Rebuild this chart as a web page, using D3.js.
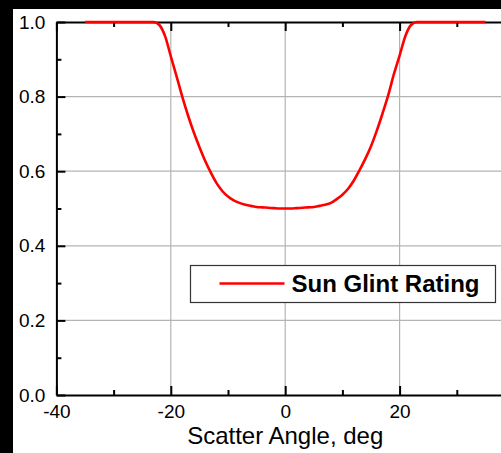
<!DOCTYPE html>
<html>
<head>
<meta charset="utf-8">
<script src="https://cdn.jsdelivr.net/npm/d3@7"></script>
<style>
  body { margin: 0; background: #000; }
  svg { display: block; font-family: 'Liberation Sans', Arial, sans-serif; }
</style>
</head>
<body>
<script>
const w = 501;
const h = 453;
const padding = { top: 22, left: 56.4, right: -13, bottom: 58 };

// scatter angle (deg) and rating
const angles = [-35, -34, -33, -32, -31, -30, -29, -28, -27, -26, -25, -24, -23, -22, -21, -20, -19, -18, -17, -16, -15, -14, -13, -12, -11, -10, -9, -8, -7, -6, -5, -4, -3, -2, -1, 0,
  1, 2, 3, 4, 5, 6, 7, 8, 9, 10, 11, 12, 13, 14, 15, 16, 17, 18, 19, 20, 21, 22, 23, 24, 25, 26, 27, 28, 29, 30, 31, 32, 33, 34, 35];
const rating = [1, 1, 1, 1, 1, 1, 1, 1, 1, 1, 1, 1, 1, 0.992, 0.962, 0.908, 0.855, 0.8, 0.75, 0.705, 0.665, 0.628, 0.596, 0.568, 0.547, 0.532, 0.522, 0.515, 0.51, 0.507, 0.504, 0.503, 0.502, 0.501, 0.5, 0.5,
  0.5, 0.501, 0.502, 0.503, 0.504, 0.507, 0.51, 0.515, 0.525, 0.537, 0.553, 0.575, 0.603, 0.633, 0.667, 0.708, 0.754, 0.803, 0.86, 0.91, 0.962, 0.992, 1, 1, 1, 1, 1, 1, 1, 1, 1, 1, 1, 1, 1, 1, 1];

const xMajor = [-40, -20, 0, 20];
const xMinor = [-30, -10, 10, 30];
const yMajor = [0, 0.2, 0.4, 0.6, 0.8, 1.0];
const yMinor = [0.1, 0.3, 0.5, 0.7, 0.9];
const xGrid = [-20, 0, 20];
const yGrid = [0.2, 0.4, 0.6, 0.8];
const seriesName = 'Sun Glint Rating';
const xTitle = 'Scatter Angle, deg';

const svg = d3.select('body')
  .append('svg')
  .attr('width', w)
  .attr('height', h);

// black border band top/left, white page behind the chart
svg.append('rect')
  .attr('x', 13)
  .attr('y', 9)
  .attr('width', w - 13)
  .attr('height', h - 9)
  .attr('fill', '#fff');

const xScale = d3.scaleLinear().domain([-40, 40]).range([padding.left, w - padding.right]);
const yScale = d3.scaleLinear().domain([0, 1]).range([h - padding.bottom, padding.top]);

// grid
svg.append('g')
  .selectAll('line')
  .data(xGrid)
  .enter()
  .append('line')
  .attr('x1', (d) => xScale(d))
  .attr('x2', (d) => xScale(d))
  .attr('y1', yScale(0))
  .attr('y2', yScale(1))
  .attr('stroke', '#b4b4b4')
  .attr('stroke-width', 1.2);

svg.append('g')
  .selectAll('line')
  .data(yGrid)
  .enter()
  .append('line')
  .attr('x1', xScale(-40))
  .attr('x2', w)
  .attr('y1', (d) => yScale(d))
  .attr('y2', (d) => yScale(d))
  .attr('stroke', '#b4b4b4')
  .attr('stroke-width', 1.2);

// axes, ticks pointing inward
const styleAxis = (g) => {
  g.select('.domain').attr('stroke', '#000').attr('stroke-width', 2);
  g.selectAll('.tick line').attr('stroke', '#000').attr('stroke-width', 2);
  g.selectAll('.tick text').attr('fill', '#000').style('font-size', '19px');
};

const xAxis = d3.axisBottom(xScale).tickValues(xMajor).tickSizeInner(-9).tickSizeOuter(0).tickPadding(10)
  .tickFormat((d) => String(d));
svg.append('g')
  .attr('id', 'x-axis')
  .attr('transform', `translate(0, ${yScale(0)})`)
  .call(xAxis)
  .call(styleAxis);

svg.append('g')
  .attr('transform', `translate(0, ${yScale(0)})`)
  .call(d3.axisBottom(xScale).tickValues(xMinor).tickSize(-5).tickFormat(''))
  .call(styleAxis)
  .call((g) => g.select('.domain').remove());

const xTop = d3.axisTop(xScale).tickValues(xMajor).tickSizeInner(-9).tickSizeOuter(0).tickFormat('');
svg.append('g')
  .attr('transform', `translate(0, ${yScale(1)})`)
  .call(xTop)
  .call(styleAxis);

svg.append('g')
  .attr('transform', `translate(0, ${yScale(1)})`)
  .call(d3.axisTop(xScale).tickValues(xMinor).tickSize(-5).tickFormat(''))
  .call(styleAxis)
  .call((g) => g.select('.domain').remove());

const yAxis = d3.axisLeft(yScale).tickValues(yMajor).tickSizeInner(-9).tickSizeOuter(0).tickPadding(11)
  .tickFormat(d3.format('.1f'));
svg.append('g')
  .attr('id', 'y-axis')
  .attr('transform', `translate(${xScale(-40)}, 0)`)
  .call(yAxis)
  .call(styleAxis);

svg.append('g')
  .attr('transform', `translate(${xScale(-40)}, 0)`)
  .call(d3.axisLeft(yScale).tickValues(yMinor).tickSize(-5).tickFormat(''))
  .call(styleAxis)
  .call((g) => g.select('.domain').remove());

// curve
const line = d3.line()
  .x((d, i) => xScale(angles[i]))
  .y((d) => yScale(d))
  .curve(d3.curveMonotoneX);

svg.append('path')
  .datum(rating)
  .attr('d', line)
  .attr('fill', 'none')
  .attr('stroke', '#ff0000')
  .attr('stroke-width', 2.6);

// legend
const legend = svg.append('g')
  .attr('id', 'legend')
  .attr('transform', 'translate(190.5, 265.5)');

legend.append('rect')
  .attr('width', 305)
  .attr('height', 37)
  .attr('fill', '#fff')
  .attr('stroke', '#333')
  .attr('stroke-width', 1.2);

legend.append('line')
  .attr('x1', 29)
  .attr('x2', 94)
  .attr('y1', 18)
  .attr('y2', 18)
  .attr('stroke', '#ff0000')
  .attr('stroke-width', 2.6);

legend.append('text')
  .attr('x', 101)
  .attr('y', 26.5)
  .style('font-size', '24px')
  .style('font-weight', 'bold')
  .attr('fill', '#000')
  .text(seriesName);

// axis title
svg.append('text')
  .attr('x', xScale(0))
  .attr('y', 444)
  .attr('text-anchor', 'middle')
  .style('font-size', '24px')
  .attr('fill', '#000')
  .text(xTitle);
</script>
</body>
</html>
